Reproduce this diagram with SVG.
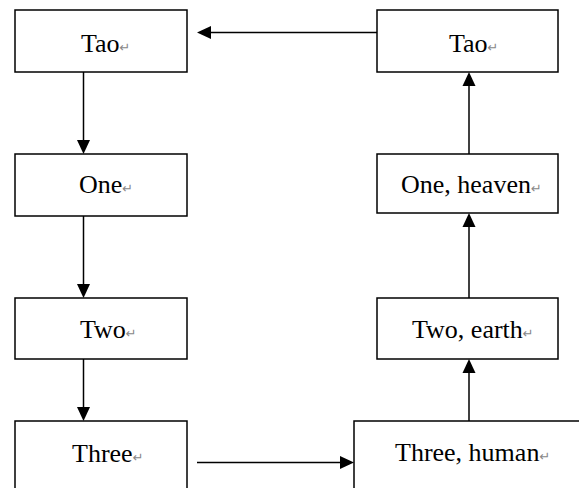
<svg xmlns="http://www.w3.org/2000/svg" width="579" height="488" viewBox="0 0 579 488">
<style>
.box{fill:#fff;stroke:#000;stroke-width:1.5}
.lbl{font-family:"Liberation Serif","Times New Roman",serif;font-size:26px;fill:#000}
.ret{font-family:"DejaVu Sans",sans-serif;font-size:13px;fill:#888}
.ln{stroke:#000;stroke-width:1.5;fill:none}
.ah{fill:#000}
</style>
<rect width="579" height="488" fill="#fff"/>
<g id="connectors">
<line class="ln" x1="83.5" y1="72" x2="83.5" y2="142"/>
<polygon class="ah" points="77,140 90,140 83.5,154"/>
<line class="ln" x1="83.5" y1="216" x2="83.5" y2="286"/>
<polygon class="ah" points="77,284 90,284 83.5,298"/>
<line class="ln" x1="83.5" y1="359" x2="83.5" y2="409"/>
<polygon class="ah" points="77,407 90,407 83.5,421"/>
<line class="ln" x1="197" y1="462.5" x2="342" y2="462.5"/>
<polygon class="ah" points="340,456 340,469 354,462.5"/>
<line class="ln" x1="469" y1="421" x2="469" y2="371"/>
<polygon class="ah" points="462.5,373 475.5,373 469,359"/>
<line class="ln" x1="469" y1="298" x2="469" y2="225"/>
<polygon class="ah" points="462.5,227 475.5,227 469,213"/>
<line class="ln" x1="469" y1="154" x2="469" y2="84"/>
<polygon class="ah" points="462.5,86 475.5,86 469,72"/>
<line class="ln" x1="377" y1="32.5" x2="209" y2="32.5"/>
<polygon class="ah" points="211,26 211,39 197,32.5"/>
</g>
<g id="tao-left">
<rect class="box" x="15" y="10" width="172" height="62"/>
<text class="lbl" x="81" y="52">Tao<tspan class="ret">↵</tspan></text>
</g>
<g id="one-left">
<rect class="box" x="15" y="154" width="172" height="62"/>
<text class="lbl" x="79" y="193">One<tspan class="ret">↵</tspan></text>
</g>
<g id="two-left">
<rect class="box" x="15" y="298" width="172" height="61"/>
<text class="lbl" x="80" y="338">Two<tspan class="ret">↵</tspan></text>
</g>
<g id="three-left">
<rect class="box" x="15" y="421" width="172" height="80"/>
<text class="lbl" x="72" y="462">Three<tspan class="ret">↵</tspan></text>
</g>
<g id="tao-right">
<rect class="box" x="377" y="10" width="181" height="62"/>
<text class="lbl" x="449" y="52">Tao<tspan class="ret">↵</tspan></text>
</g>
<g id="one-heaven">
<rect class="box" x="377" y="154" width="181" height="59"/>
<text class="lbl" x="401" y="193">One, heaven<tspan class="ret">↵</tspan></text>
</g>
<g id="two-earth">
<rect class="box" x="377" y="298" width="181" height="61"/>
<text class="lbl" x="412" y="338">Two, earth<tspan class="ret">↵</tspan></text>
</g>
<g id="three-human">
<rect class="box" x="354" y="421" width="240" height="80"/>
<text class="lbl" x="395" y="461">Three, human<tspan class="ret">↵</tspan></text>
</g>
</svg>
